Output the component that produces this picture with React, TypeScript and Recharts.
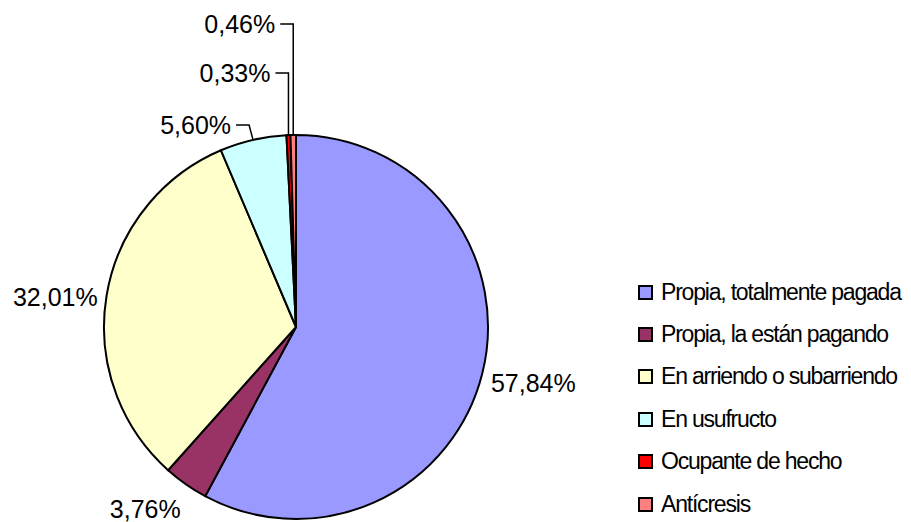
import React from "react";
import { PieChart, Pie, Cell, Legend } from "recharts";

const categories = [
  "Propia, totalmente pagada",
  "Propia, la están pagando",
  "En arriendo o subarriendo",
  "En usufructo",
  "Ocupante de hecho",
  "Antícresis",
];
const shares = [57.84, 3.76, 32.01, 5.6, 0.33, 0.46];
const colors = ["#9999FF", "#993366", "#FFFFCC", "#CCFFFF", "#FF0000", "#FF8080"];

// how far above the pie top the leader of each small slice bends
const leaderRise = [0, 0, 0, 10, 62, 111];

const data = categories.map((name, i) => ({ name, value: shares[i] }));

const FONT = '"Liberation Sans", Arial, sans-serif';
const RAD = Math.PI / 180;

const fmt = (v: number) => v.toFixed(2).replace(".", ",") + "%";

const renderLabel = (props: any) => {
  const { cx, cy, midAngle, outerRadius, percent, index } = props;
  const text = fmt(shares[index]);
  const cos = Math.cos(-midAngle * RAD);
  const sin = Math.sin(-midAngle * RAD);
  const ex = cx + outerRadius * cos;
  const ey = cy + outerRadius * sin;

  // small slices at the top get a bent leader line
  if (percent < 0.1 && sin < 0) {
    const elbowY = cy - outerRadius - leaderRise[index];
    const elbowX = percent < 0.01 ? ex : ex - 4;
    const endX = elbowX - 13;
    return (
      <g key={`lbl-${index}`}>
        <polyline
          points={`${ex},${ey} ${elbowX},${elbowY} ${endX},${elbowY}`}
          fill="none"
          stroke="#000"
          strokeWidth={1.5}
        />
        <text
          x={endX - 5}
          y={elbowY}
          textAnchor="end"
          dominantBaseline="central"
          fontFamily={FONT}
          fontSize={25}
          fill="#000"
        >
          {text}
        </text>
      </g>
    );
  }

  const px = cx + (outerRadius + 9) * cos;
  const py = cy + (outerRadius + 9) * sin;
  return (
    <text
      key={`lbl-${index}`}
      x={px}
      y={py + 3 + 17 * Math.max(0, sin)}
      textAnchor={cos >= 0 ? "start" : "end"}
      dominantBaseline="central"
      fontFamily={FONT}
      fontSize={25}
      fill="#000"
    >
      {text}
    </text>
  );
};

const renderLegend = () => (
  <div style={{ fontFamily: FONT, whiteSpace: "nowrap" }}>
    {categories.map((name, i) => (
      <div
        key={name}
        style={{ display: "flex", alignItems: "center", height: 42.4 }}
      >
        <span
          style={{
            display: "inline-block",
            flexShrink: 0,
            width: 15,
            height: 15,
            boxSizing: "border-box",
            border: "2px solid #000",
            background: colors[i],
            marginRight: 8,
          }}
        />
        <span style={{ fontSize: 23, letterSpacing: -1.2, color: "#000" }}>{name}</span>
      </div>
    ))}
  </div>
);

export default function App() {
  return (
    <div
      style={{
        position: "absolute",
        left: 0,
        top: 0,
        width: 911,
        height: 522,
        background: "#fff",
        overflow: "hidden",
      }}
    >
      <PieChart width={911} height={522} margin={{ top: 0, right: 0, bottom: 0, left: 0 }}>
        <Pie
          data={data}
          dataKey="value"
          nameKey="name"
          cx={296}
          cy={327}
          outerRadius={192}
          startAngle={90}
          endAngle={-270}
          stroke="#000"
          strokeWidth={2}
          label={renderLabel}
          labelLine={false}
          isAnimationActive={false}
        >
          {data.map((d, i) => (
            <Cell key={d.name} fill={colors[i]} />
          ))}
        </Pie>
        <Legend
          layout="vertical"
          align="right"
          verticalAlign="top"
          wrapperStyle={{ left: 638, top: 271, width: 273 }}
          content={renderLegend}
        />
      </PieChart>
    </div>
  );
}
